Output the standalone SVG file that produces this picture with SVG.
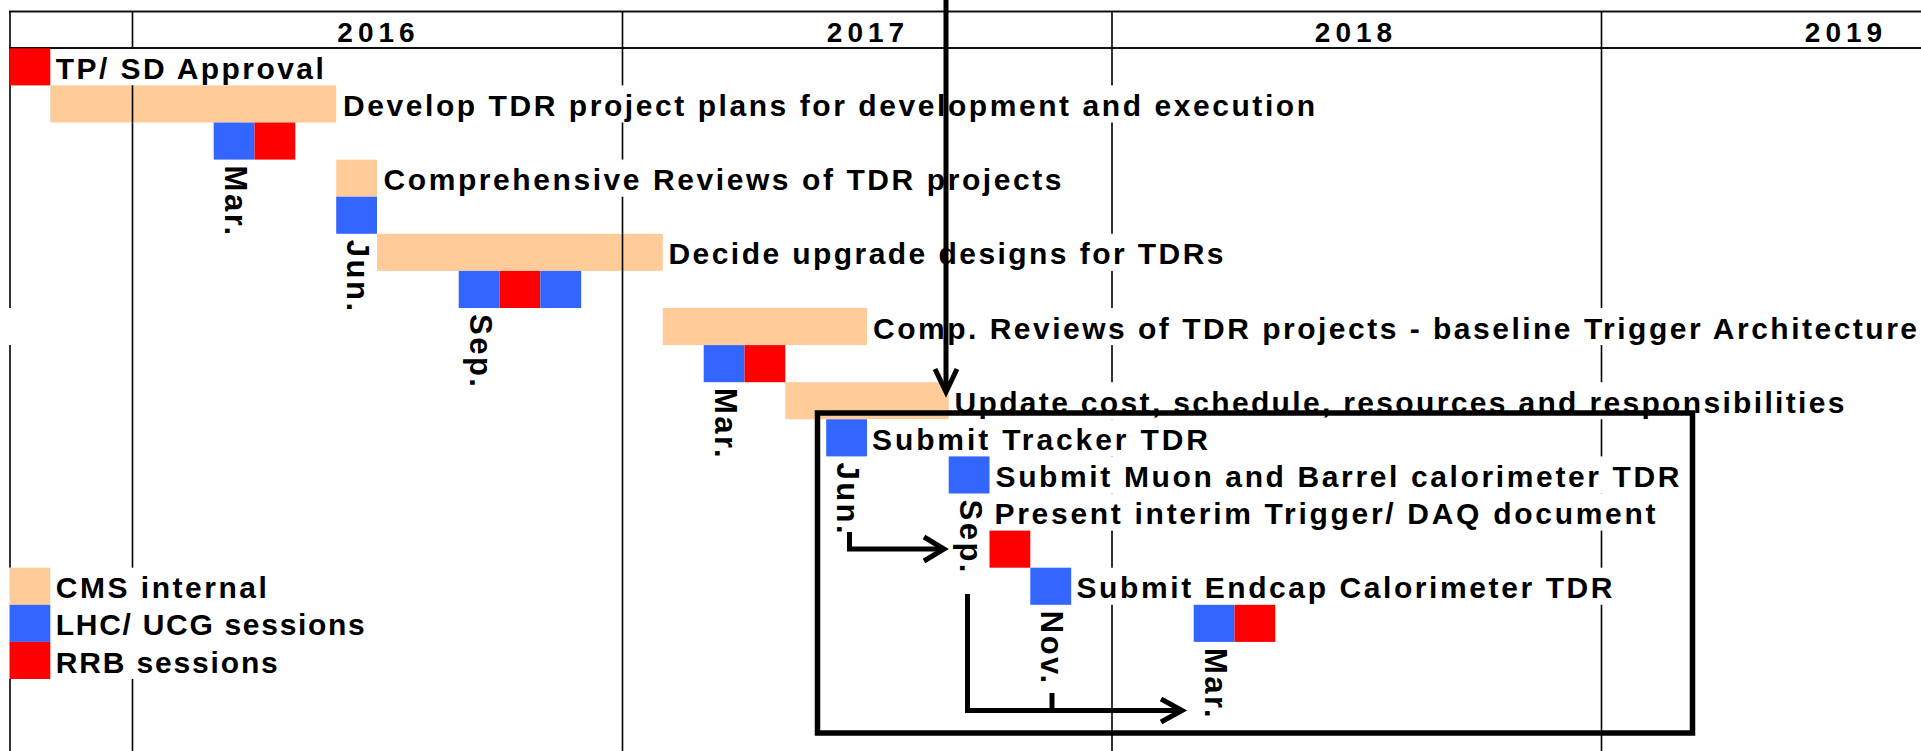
<svg xmlns="http://www.w3.org/2000/svg" width="1921" height="751" viewBox="0 0 1921 751">
<style>
.t{font-family:"Liberation Sans",Arial,sans-serif;font-weight:bold;font-size:30px;fill:#000}
.yr{font-family:"Liberation Sans",Arial,sans-serif;font-weight:bold;font-size:28px;letter-spacing:5px;fill:#000;text-anchor:middle}
.lb{font-family:"Liberation Sans",Arial,sans-serif;font-weight:bold;font-size:31px;letter-spacing:2.5px;fill:#000}
.pe{fill:#FFCC99}
.bl{fill:#3366FF}
.rd{fill:#FF0000}
.bg{fill:#fff}
.g{stroke:#000;stroke-width:1.6;fill:none}
.gh{stroke:#111;stroke-width:2;fill:none}
.ar{stroke:#000;fill:none;stroke-linecap:butt;stroke-linejoin:miter}
</style>
<rect x="0" y="0" width="1921" height="751" fill="#fff"/>

<g id="grid">
  <line class="gh" x1="9" y1="11.5" x2="1921" y2="11.5"/>
  <line class="gh" x1="9" y1="48" x2="1921" y2="48"/>
  <path class="g" d="M10,11 V308 M10,345 V751"/>
  <line class="g" x1="132.5" y1="11" x2="132.5" y2="751"/>
  <line class="g" x1="622.5" y1="11" x2="622.5" y2="751"/>
  <line class="g" x1="1112" y1="11" x2="1112" y2="751"/>
  <line class="g" x1="1601.5" y1="11" x2="1601.5" y2="751"/>
  <text class="yr" x="378.5" y="41.5">2016</text>
  <text class="yr" x="868" y="41.5">2017</text>
  <text class="yr" x="1356" y="41.5">2018</text>
  <text class="yr" x="1846" y="41.5">2019</text>
</g>

<g id="tp-sd-approval">
  <rect class="bg" x="51" y="49" width="274" height="36.4"/>
  <rect class="rd" x="9.5" y="48.3" width="40.8" height="37.1"/>
  <text class="t" x="55.8" y="79" textLength="268" lengthAdjust="spacing">TP/ SD Approval</text>
</g>

<g id="develop-tdr-plans">
  <rect class="bg" x="338" y="85.4" width="980" height="37.1"/>
  <rect class="pe" x="50.3" y="85.4" width="285.9" height="37.1"/>
  <text class="t" x="343" y="116" textLength="972" lengthAdjust="spacing">Develop TDR project plans for development and execution</text>
</g>

<g id="mar-2016">
  <rect class="bl" x="213.7" y="122.5" width="40.8" height="37.1"/>
  <rect class="rd" x="254.5" y="122.5" width="40.8" height="37.1"/>
  <text class="lb" transform="translate(224.5,165.6) rotate(90)">Mar.</text>
</g>

<g id="comprehensive-reviews">
  <rect class="bg" x="378" y="159.6" width="685" height="37.1"/>
  <rect class="pe" x="336.2" y="159.6" width="40.8" height="37.1"/>
  <text class="t" x="383.5" y="190" textLength="678" lengthAdjust="spacing">Comprehensive Reviews of TDR projects</text>
</g>

<g id="jun-2016">
  <rect class="bl" x="336.2" y="196.7" width="40.8" height="37.1"/>
  <text class="lb" transform="translate(347,239.8) rotate(90)">Jun.</text>
</g>

<g id="decide-upgrade-designs">
  <rect class="bg" x="664" y="233.8" width="560" height="37.1"/>
  <rect class="pe" x="377" y="233.8" width="285.8" height="37.1"/>
  <text class="t" x="668.5" y="264.3" textLength="555" lengthAdjust="spacing">Decide upgrade designs for TDRs</text>
</g>

<g id="sep-2016">
  <rect class="bl" x="458.7" y="270.9" width="40.8" height="37.1"/>
  <rect class="rd" x="499.5" y="270.9" width="40.8" height="37.1"/>
  <rect class="bl" x="540.3" y="270.9" width="40.9" height="37.1"/>
  <text class="lb" transform="translate(469.5,314) rotate(90)">Sep.</text>
</g>

<g id="comp-reviews-trigger">
  <rect class="bg" x="868" y="308" width="1053" height="37.1"/>
  <rect class="pe" x="662.8" y="308" width="204.2" height="37.1"/>
  <text class="t" x="873" y="338.5" textLength="1044" lengthAdjust="spacing">Comp. Reviews of TDR projects - baseline Trigger Architecture</text>
</g>

<g id="mar-2017">
  <rect class="bl" x="703.7" y="345.1" width="40.8" height="37.1"/>
  <rect class="rd" x="744.5" y="345.1" width="40.8" height="37.1"/>
  <text class="lb" transform="translate(714.5,388) rotate(90)">Mar.</text>
</g>

<g id="update-cost-schedule">
  <rect class="bg" x="950" y="382.2" width="897" height="37.1"/>
  <rect class="pe" x="785.3" y="382.2" width="163.4" height="37.1"/>
  <text class="t" x="954.5" y="412.7" textLength="890" lengthAdjust="spacing">Update cost, schedule, resources and responsibilities</text>
</g>

<g id="submit-tracker-tdr">
  <rect class="bg" x="868" y="419.3" width="342" height="37.1"/>
  <rect class="bl" x="826.2" y="419.3" width="40.8" height="37.1"/>
  <text class="t" x="872" y="449.6" textLength="336" lengthAdjust="spacing">Submit Tracker TDR</text>
  <text class="lb" transform="translate(837,462.4) rotate(90)">Jun.</text>
</g>

<g id="submit-muon-barrel-tdr">
  <rect class="bg" x="991" y="456.4" width="690" height="37.1"/>
  <rect class="bl" x="948.7" y="456.4" width="40.8" height="37.1"/>
  <text class="t" x="995.5" y="486.9" textLength="684" lengthAdjust="spacing">Submit Muon and Barrel calorimeter TDR</text>
  <text class="lb" transform="translate(959.5,499.5) rotate(90)">Sep.</text>
</g>

<g id="present-trigger-daq">
  <rect class="bg" x="991" y="493.5" width="666" height="37.1"/>
  <rect class="rd" x="989.5" y="530.6" width="40.8" height="37.1"/>
  <text class="t" x="994.5" y="524" textLength="661" lengthAdjust="spacing">Present interim Trigger/ DAQ document</text>
</g>

<g id="submit-endcap-tdr">
  <rect class="bg" x="1072" y="567.7" width="542" height="37.1"/>
  <rect class="bl" x="1030.3" y="567.7" width="40.9" height="37.1"/>
  <text class="t" x="1076.5" y="598.2" textLength="536" lengthAdjust="spacing">Submit Endcap Calorimeter TDR</text>
  <text class="lb" transform="translate(1041,610.8) rotate(90)">Nov.</text>
</g>

<g id="mar-2018">
  <rect class="bl" x="1193.7" y="604.8" width="40.8" height="37.1"/>
  <rect class="rd" x="1234.5" y="604.8" width="40.8" height="37.1"/>
  <text class="lb" transform="translate(1204.5,648) rotate(90)">Mar.</text>
</g>

<g id="legend">
  <rect class="bg" x="9" y="567.7" width="358" height="111.3"/>
  <rect class="pe" x="9.5" y="567.7" width="40.8" height="37.1"/>
  <rect class="bl" x="9.5" y="604.8" width="40.8" height="37.1"/>
  <rect class="rd" x="9.5" y="641.9" width="40.8" height="37.1"/>
  <text class="t" x="55.8" y="598.3" textLength="211" lengthAdjust="spacing">CMS internal</text>
  <text class="t" x="55.8" y="635.4" textLength="309" lengthAdjust="spacing">LHC/ UCG sessions</text>
  <text class="t" x="55.8" y="672.5" textLength="222" lengthAdjust="spacing">RRB sessions</text>
</g>

<g id="grid-over-bars">
  <line class="g" x1="132.5" y1="85.4" x2="132.5" y2="122.5"/>
  <line class="g" x1="622.5" y1="233.8" x2="622.5" y2="270.9"/>
</g>

<g id="tdr-box">
  <rect x="817.5" y="413" width="875" height="320" fill="none" stroke="#000" stroke-width="5.5"/>
</g>

<g id="connectors">
  <path class="ar" stroke-width="5" d="M946,0 V391"/>
  <path class="ar" stroke-width="5" d="M935,369 L946,392 L957,369"/>
  <path class="ar" stroke-width="5" d="M849.5,532 V549 H942"/>
  <path class="ar" stroke-width="5" d="M924,537 L944,549 L924,561"/>
  <path class="ar" stroke-width="5" d="M967.5,594 V710.5 H1180"/>
  <path class="ar" stroke-width="5" d="M1052,693 V712"/>
  <path class="ar" stroke-width="5" d="M1161,699 L1182,710.5 L1161,722"/>
</g>
</svg>
